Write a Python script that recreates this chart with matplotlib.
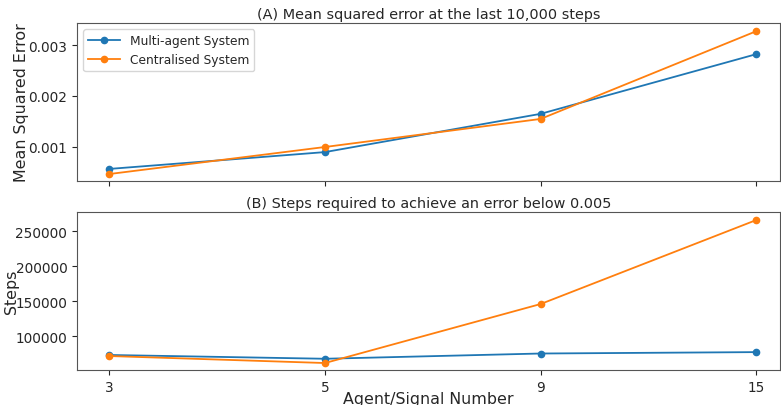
import numpy as np
import matplotlib
matplotlib.use("Agg")
import matplotlib.pyplot as plt

# agent / signal numbers (plotted as equally spaced categories)
agent_numbers = ["3", "5", "9", "15"]

# (A) mean squared error at the last 10,000 steps
mse_multi = [0.00057, 0.00090, 0.00165, 0.00282]
mse_central = [0.00047, 0.00100, 0.00155, 0.00327]

# (B) steps required to reach an error below 0.005
steps_multi = [72900, 67500, 75000, 77000]
steps_central = [71400, 61400, 145700, 265700]

plt.rcParams['text.color'] = '#262626'
plt.rcParams['axes.labelcolor'] = '#262626'
plt.rcParams['xtick.color'] = '#262626'
plt.rcParams['ytick.color'] = '#262626'

fig = plt.figure(figsize=(7.81, 4.06), dpi=100)
ax1 = fig.add_axes([0.0986, 0.5517, 0.90, 0.389])
ax2 = fig.add_axes([0.0986, 0.0862, 0.90, 0.389])

x = np.arange(len(agent_numbers))

ax1.plot(x, mse_multi, marker='o', markersize=4.5, lw=1.3, color='#1f77b4', label='Multi-agent System')
ax1.plot(x, mse_central, marker='o', markersize=4.5, lw=1.3, color='#ff7f0e', label='Centralised System')
ax1.set_title('(A) Mean squared error at the last 10,000 steps', fontsize=10.4, pad=4)
ax1.set_ylabel('Mean Squared Error', fontsize=11.4)
ax1.yaxis.set_label_coords(-0.068, 0.5)
ax1.set_yticks([0.001, 0.002, 0.003])
ax1.set_xticks(x)
ax1.set_xticklabels([])
ax1.set_xlim(-0.15, 3.11)
ax1.set_ylim(0.000333, 0.00343)
ax1.legend(loc='upper left', fontsize=8.8, handlelength=2.6)

ax2.plot(x, steps_multi, marker='o', markersize=4.5, lw=1.3, color='#1f77b4')
ax2.plot(x, steps_central, marker='o', markersize=4.5, lw=1.3, color='#ff7f0e')
ax2.set_title('(B) Steps required to achieve an error below 0.005', fontsize=10.4, pad=4)
ax2.set_ylabel('Steps', fontsize=11.4)
ax2.yaxis.set_label_coords(-0.082, 0.5)
ax2.set_xlabel('Agent/Signal Number', fontsize=11.4, labelpad=-2)
ax2.set_xticks(x)
ax2.set_xticklabels(agent_numbers)
ax2.set_yticks([100000, 150000, 200000, 250000])
ax2.set_xlim(-0.15, 3.11)
ax2.set_ylim(51430, 277140)

for ax in (ax1, ax2):
    ax.tick_params(labelsize=9.8)
    for s in ax.spines.values():
        s.set_color('#555555')

fig.savefig('out.png', dpi=100)
